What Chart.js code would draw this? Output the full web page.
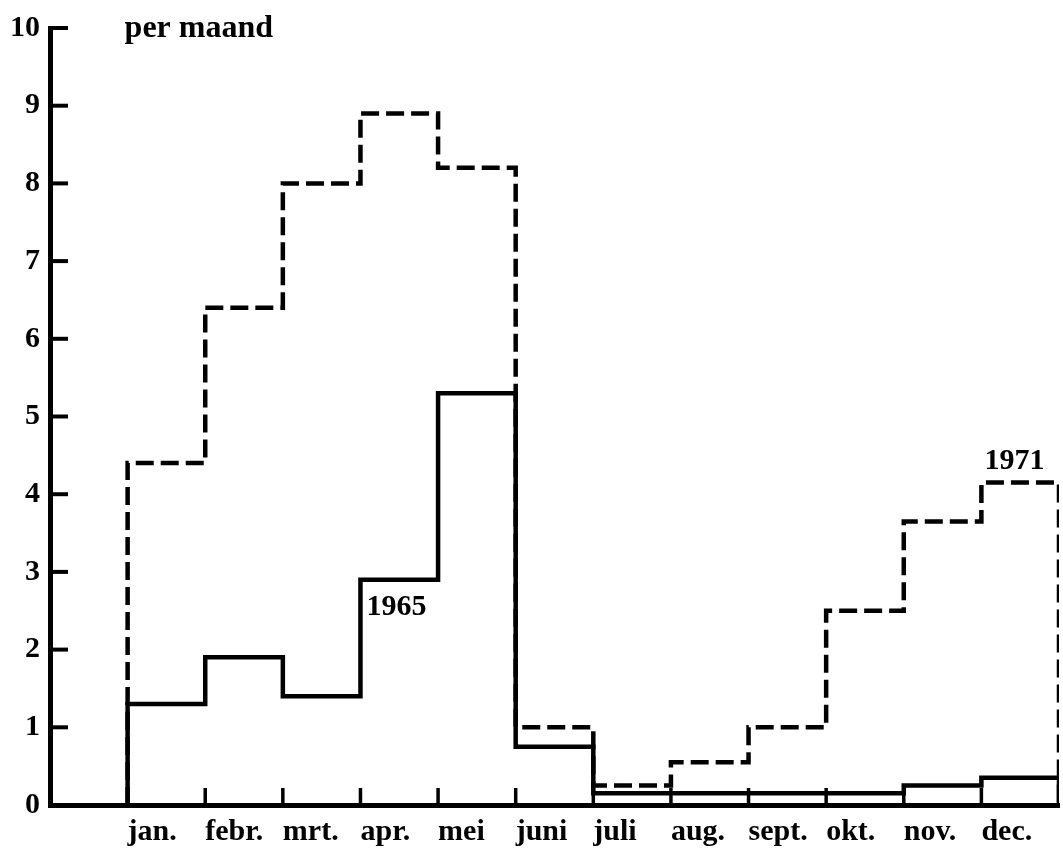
<!DOCTYPE html>
<html><head><meta charset="utf-8">
<script src="https://cdn.jsdelivr.net/npm/chart.js@4/dist/chart.umd.min.js"></script>
<style>html,body{margin:0;padding:0;background:#fff;}canvas{display:block;}</style>
</head><body>
<canvas id="c" width="1063" height="851"></canvas>
<script>
// ---- data ----
const monthLabels = ['jan.','febr.','mrt.','apr.','mei','juni','juli','aug.','sept.','okt.','nov.','dec.'];
const values1971 = [4.4, 6.4, 8.0, 8.9, 8.2, 1.0, 0.25, 0.55, 1.0, 2.5, 3.65, 4.15];
const values1965 = [1.3, 1.9, 1.4, 2.9, 5.3, 0.75, 0.15, 0.15, 0.15, 0.15, 0.25, 0.35];
const yTickValues = [0,1,2,3,4,5,6,7,8,9,10];
const unitLabel = 'per maand';
const seriesNames = ['1971','1965'];

// build closed step outlines: month i occupies [i, i+1]
function stepPoints(vals){
  const pts = [{x:1, y:0}];
  vals.forEach((v,i)=>pts.push({x:i+1, y:v}));
  pts.push({x:vals.length+1, y:vals[vals.length-1]});
  pts.push({x:vals.length+1, y:0});
  return pts;
}

const FONT = '"Liberation Serif", "Times New Roman", serif';

const deco = {
  id:'deco',
  afterDraw(chart){
    const {ctx, scales:{x, y}} = chart;
    ctx.save();
    ctx.strokeStyle = '#000';
    ctx.lineCap = 'butt';
    // inward y ticks
    ctx.lineWidth = 4;
    yTickValues.forEach(v=>{
      const py = y.getPixelForValue(v);
      ctx.beginPath(); ctx.moveTo(x.left, py); ctx.lineTo(x.left + 18, py); ctx.stroke();
    });
    // inward x ticks at month boundaries
    ctx.lineWidth = 3.5;
    for (let i = 2; i <= monthLabels.length; i++){
      const px = x.getPixelForValue(i);
      ctx.beginPath(); ctx.moveTo(px, y.bottom); ctx.lineTo(px, y.bottom - 17); ctx.stroke();
    }
    // texts
    ctx.fillStyle = '#000';
    ctx.textAlign = 'left';
    ctx.textBaseline = 'alphabetic';
    ctx.font = 'bold 32px ' + FONT;
    ctx.fillText(unitLabel, x.getPixelForValue(1) - 3, y.top + 9);
    ctx.font = 'bold 30px ' + FONT;
    ctx.fillText(seriesNames[1], x.getPixelForValue(4) + 6, y.getPixelForValue(2.45));
    ctx.fillText(seriesNames[0], x.getPixelForValue(12) + 3, y.getPixelForValue(4.33));
    ctx.restore();
  }
};

new Chart(document.getElementById('c'), {
  type: 'line',
  data: {
    datasets: [
      { label: seriesNames[1], data: stepPoints(values1965), stepped: true,
        borderColor: '#000', borderWidth: 4.5, pointRadius: 0, fill: false,
        borderJoinStyle: 'miter', borderCapStyle: 'butt' },
      { label: seriesNames[0], data: stepPoints(values1971), stepped: true,
        borderColor: '#000', borderWidth: 4.5, borderDash: [18, 7], pointRadius: 0, fill: false,
        borderJoinStyle: 'miter', borderCapStyle: 'butt' }
    ]
  },
  options: {
    responsive: false,
    animation: false,
    devicePixelRatio: 1,
    layout: { padding: { top: 22, right: 4, left: 0, bottom: 0 } },
    plugins: { legend: { display: false }, tooltip: { enabled: false } },
    scales: {
      x: {
        type: 'linear', min: 0, max: monthLabels.length + 1,
        afterBuildTicks(scale){ scale.ticks = monthLabels.map((_, i) => ({ value: i + 1 })); },
        afterFit(scale){ scale.height = 46; },
        grid: { display: false, drawTicks: false },
        border: { display: true, color: '#000', width: 5 },
        ticks: {
          align: 'start', padding: 9, color: '#000', autoSkip: false, maxRotation: 0,
          font: { family: FONT, size: 30, weight: 'bold' },
          callback: (v) => monthLabels[v - 1] ?? ''
        }
      },
      y: {
        min: 0, max: 10,
        afterFit(scale){ scale.width = 50; },
        grid: { display: false, drawTicks: false },
        border: { display: true, color: '#000', width: 5 },
        ticks: {
          stepSize: 1, padding: 10, color: '#000',
          font: { family: FONT, size: 30, weight: 'bold' }
        }
      }
    }
  },
  plugins: [deco]
});
</script>
</body></html>
